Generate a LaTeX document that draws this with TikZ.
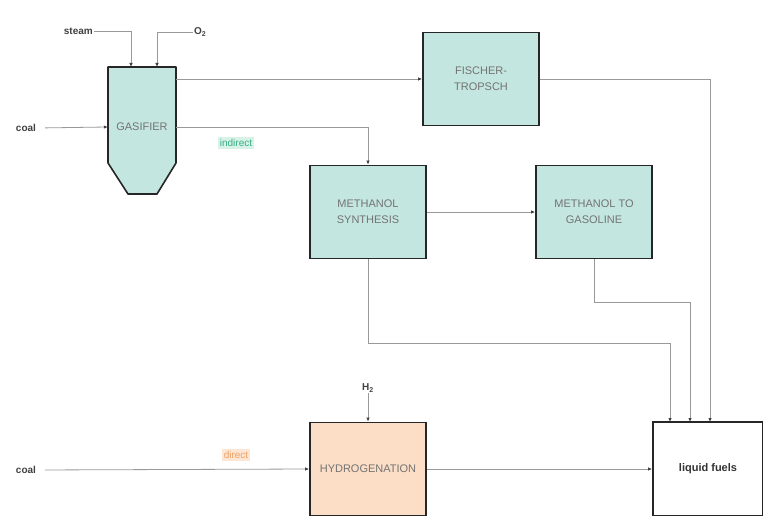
\documentclass[tikz,border=0pt]{standalone}
\usepackage{fontspec}
\setmainfont{Liberation Sans}
\usetikzlibrary{arrows.meta}
\definecolor{BoxTeal}{HTML}{C4E6E0}
\definecolor{BoxOrange}{HTML}{FCDEC6}
\definecolor{RouteGreen}{HTML}{34AE86}
\definecolor{RouteGreenBg}{HTML}{D8F2E8}
\definecolor{RouteOrange}{HTML}{EFA062}
\definecolor{RouteOrangeBg}{HTML}{FDE6D4}

\begin{document}
\begin{tikzpicture}[x=1pt, y=-1pt,
    unit/.style={draw=black!85, line width=1.8pt, fill=BoxTeal, text=black!55,
        font=\fontsize{11}{16}\selectfont, align=center,
        minimum width=116pt, minimum height=93pt, inner sep=0pt},
    flow/.style={draw=black!40, line width=0.8pt, -{Latex[length=4pt,width=3.5pt,color=black!75]}},
    feed/.style={font=\bfseries\fontsize{10}{12}\selectfont, text=black!75, inner sep=1pt},
    route/.style={font=\fontsize{10}{12}\selectfont, inner sep=2pt}]
    \useasboundingbox (0,0) rectangle (763,516);
    % gasifier vessel
    \fill[BoxTeal] (108,67) -- (176,67) -- (176,163) -- (157,194) -- (128,194) -- (108,163) -- cycle;
    \draw[black!85, line width=1.6pt, line join=round]
        (108,67) -- (176,67) -- (176,163) -- (157,194) -- (128,194) -- (108,163) -- cycle;
    \node[text=black!55, font=\fontsize{11}{12}\selectfont, minimum width=68pt, inner sep=0pt] (gas) at (142,127) {GASIFIER};
    \coordinate (gasA) at (131,67);
    \coordinate (gasB) at (157,67);
    % process units
    \node[unit] (ft) at (481,79) {FISCHER-\\TROPSCH};
    \node[unit] (ms) at (368,212) {METHANOL\\SYNTHESIS};
    \node[unit] (mtg) at (594,212) {METHANOL TO\\GASOLINE};
    \node[unit, fill=BoxOrange] (hyd) at (368,469) {HYDROGENATION};
    \node[unit, fill=white, text=black!80, minimum width=110pt, minimum height=94pt,
        font=\bfseries\fontsize{11}{12}\selectfont] (lf) at (708,469) {liquid fuels};
    \coordinate (lfA) at (670,422);
    \coordinate (lfB) at (690,422);
    \coordinate (lfC) at (710,422);
    % feeds
    \node[feed, anchor=east] (steam) at (94,31) {steam};
    \node[feed, anchor=west] (oxy) at (193,32) {O$_\mathbf{2}$};
    \node[feed] (coalA) at (26,128) {coal};
    \node[feed] (coalB) at (26,470) {coal};
    \node[feed] (hh) at (368,388) {H$_\mathbf{2}$};
    % route labels
    \node[route, text=RouteGreen, fill=RouteGreenBg] at (236,143) {indirect};
    \node[route, text=RouteOrange, fill=RouteOrangeBg] at (236,455) {direct};
    % connectors
    \draw[flow] (steam.east) -| (gasA);
    \draw[flow] (oxy.west) -| (gasB);
    \draw[flow, shorten <=8pt] (coalA.east) -- (gas.west);
    \draw[flow] (gas.east |- ft) -- (ft.west);
    \draw[flow] (gas.east) -| (ms.north);
    \draw[flow] (ms) -- (mtg);
    \draw[flow] (ft.east) -| (lfC);
    \draw[flow] (ms.south) -- ++(0,84) -| (lfA);
    \draw[flow] (mtg.south) -- ++(0,43) -| (lfB);
    \draw[flow] (hh.south) -- (hyd.north);
    \draw[flow, shorten <=8pt] (coalB.east) -- (hyd.west);
    \draw[flow] (hyd) -- (lf);
\end{tikzpicture}
\end{document}
